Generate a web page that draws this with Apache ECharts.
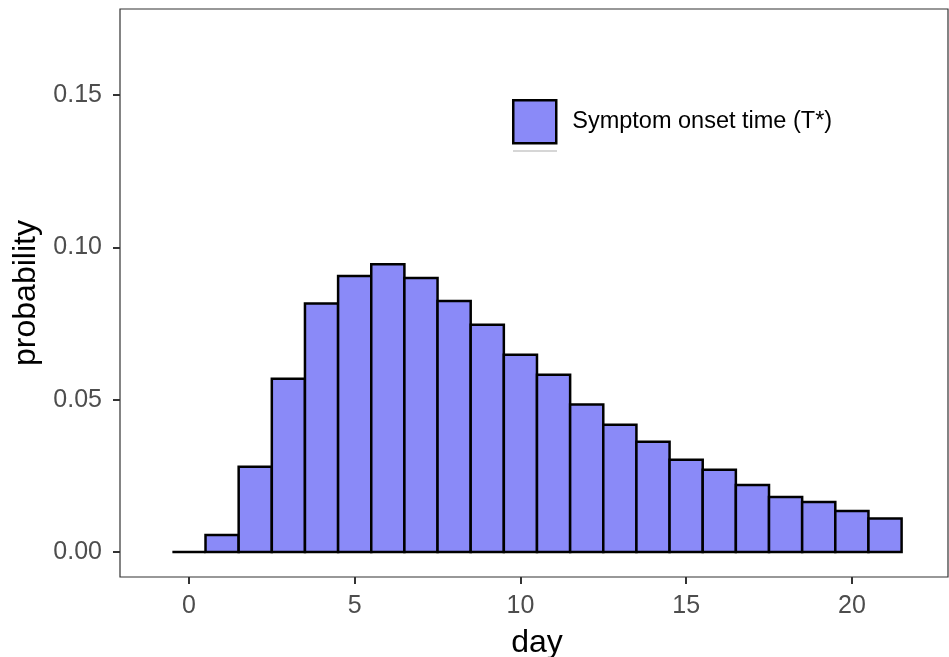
<!DOCTYPE html>
<html>
<head>
<meta charset="utf-8">
<script src="https://cdn.jsdelivr.net/npm/echarts@6/dist/echarts.min.js"></script>
<style>html,body{margin:0;padding:0;background:#fff}#c{width:949px;height:657px}</style>
</head>
<body>
<div id="c"></div>
<script>
const days = [0,1,2,3,4,5,6,7,8,9,10,11,12,13,14,15,16,17,18,19,20,21];
const probability = [0.0000,0.0056,0.0280,0.0569,0.0816,0.0906,0.0945,0.0900,0.0824,0.0746,0.0648,0.0582,0.0484,0.0418,0.0362,0.0303,0.0270,0.0220,0.0181,0.0164,0.0135,0.0110];
const xTicks = [0,5,10,15,20];
const yTicks = [0,0.05,0.10,0.15];
const seriesName = 'Symptom onset time (T*)';

const FONT = '"Liberation Sans", Arial, Helvetica, sans-serif';
const FILL = '#8a8af8';
const chart = echarts.init(document.getElementById('c'), null, {renderer:'canvas'});
const data = days.map((d,i)=>[d, probability[i]]);
chart.setOption({
  animation:false,
  backgroundColor:'#fff',
  grid:{left:120,right:1,top:9,bottom:80,outerBoundsMode:'none',containLabel:false,
    show:true,borderColor:'#333',borderWidth:1.2,backgroundColor:'transparent'},
  legend:{
    show:true,left:512,top:99,padding:0,itemWidth:43,itemHeight:43,itemGap:10,
    textStyle:{fontFamily:FONT,fontSize:23.5,color:'#000',padding:[0,0,0,11]},
    data:[{name:seriesName,icon:'rect',itemStyle:{color:FILL,borderColor:'#000',borderWidth:2.5}}]
  },
  xAxis:{
    type:'value',min:-2.08,max:22.9,
    name:'day',nameLocation:'middle',nameGap:50,
    nameTextStyle:{fontFamily:FONT,fontSize:32,color:'#000',padding:[0,0,0,6]},
    axisLine:{show:false,onZero:false},
    axisTick:{show:true,length:7,customValues:xTicks,lineStyle:{color:'#333',width:2}},
    axisLabel:{customValues:xTicks,fontFamily:FONT,fontSize:25,color:'#4d4d4d',margin:17},
    splitLine:{show:false}
  },
  yAxis:{
    type:'value',min:-0.0082,max:0.1783,
    name:'probability',nameLocation:'middle',nameGap:75,nameRotate:90,
    nameTextStyle:{fontFamily:FONT,fontSize:32,color:'#000'},
    axisLine:{show:false,onZero:false},
    axisTick:{show:true,length:7,customValues:yTicks,lineStyle:{color:'#333',width:2}},
    axisLabel:{customValues:yTicks,fontFamily:FONT,fontSize:25,color:'#4d4d4d',margin:18,
      formatter:v=>v.toFixed(2)},
    splitLine:{show:false}
  },
  series:[{
    type:'custom',name:seriesName,data:data,
    itemStyle:{color:FILL,borderColor:'#000',borderWidth:2.5},
    renderItem:function(params,api){
      const x=api.value(0), y=api.value(1);
      const p0=api.coord([x-0.5,y]);
      const p1=api.coord([x+0.5,0]);
      return {type:'rect',shape:{x:p0[0],y:p0[1],width:p1[0]-p0[0],height:p1[1]-p0[1]},
        style:{fill:FILL,stroke:'#000',lineWidth:2.5}};
    }
  }],
  graphic:[{type:'line',shape:{x1:513,y1:151,x2:557,y2:151},style:{stroke:'#c8c8c8',lineWidth:1.5}}]
});
</script>
</body>
</html>
